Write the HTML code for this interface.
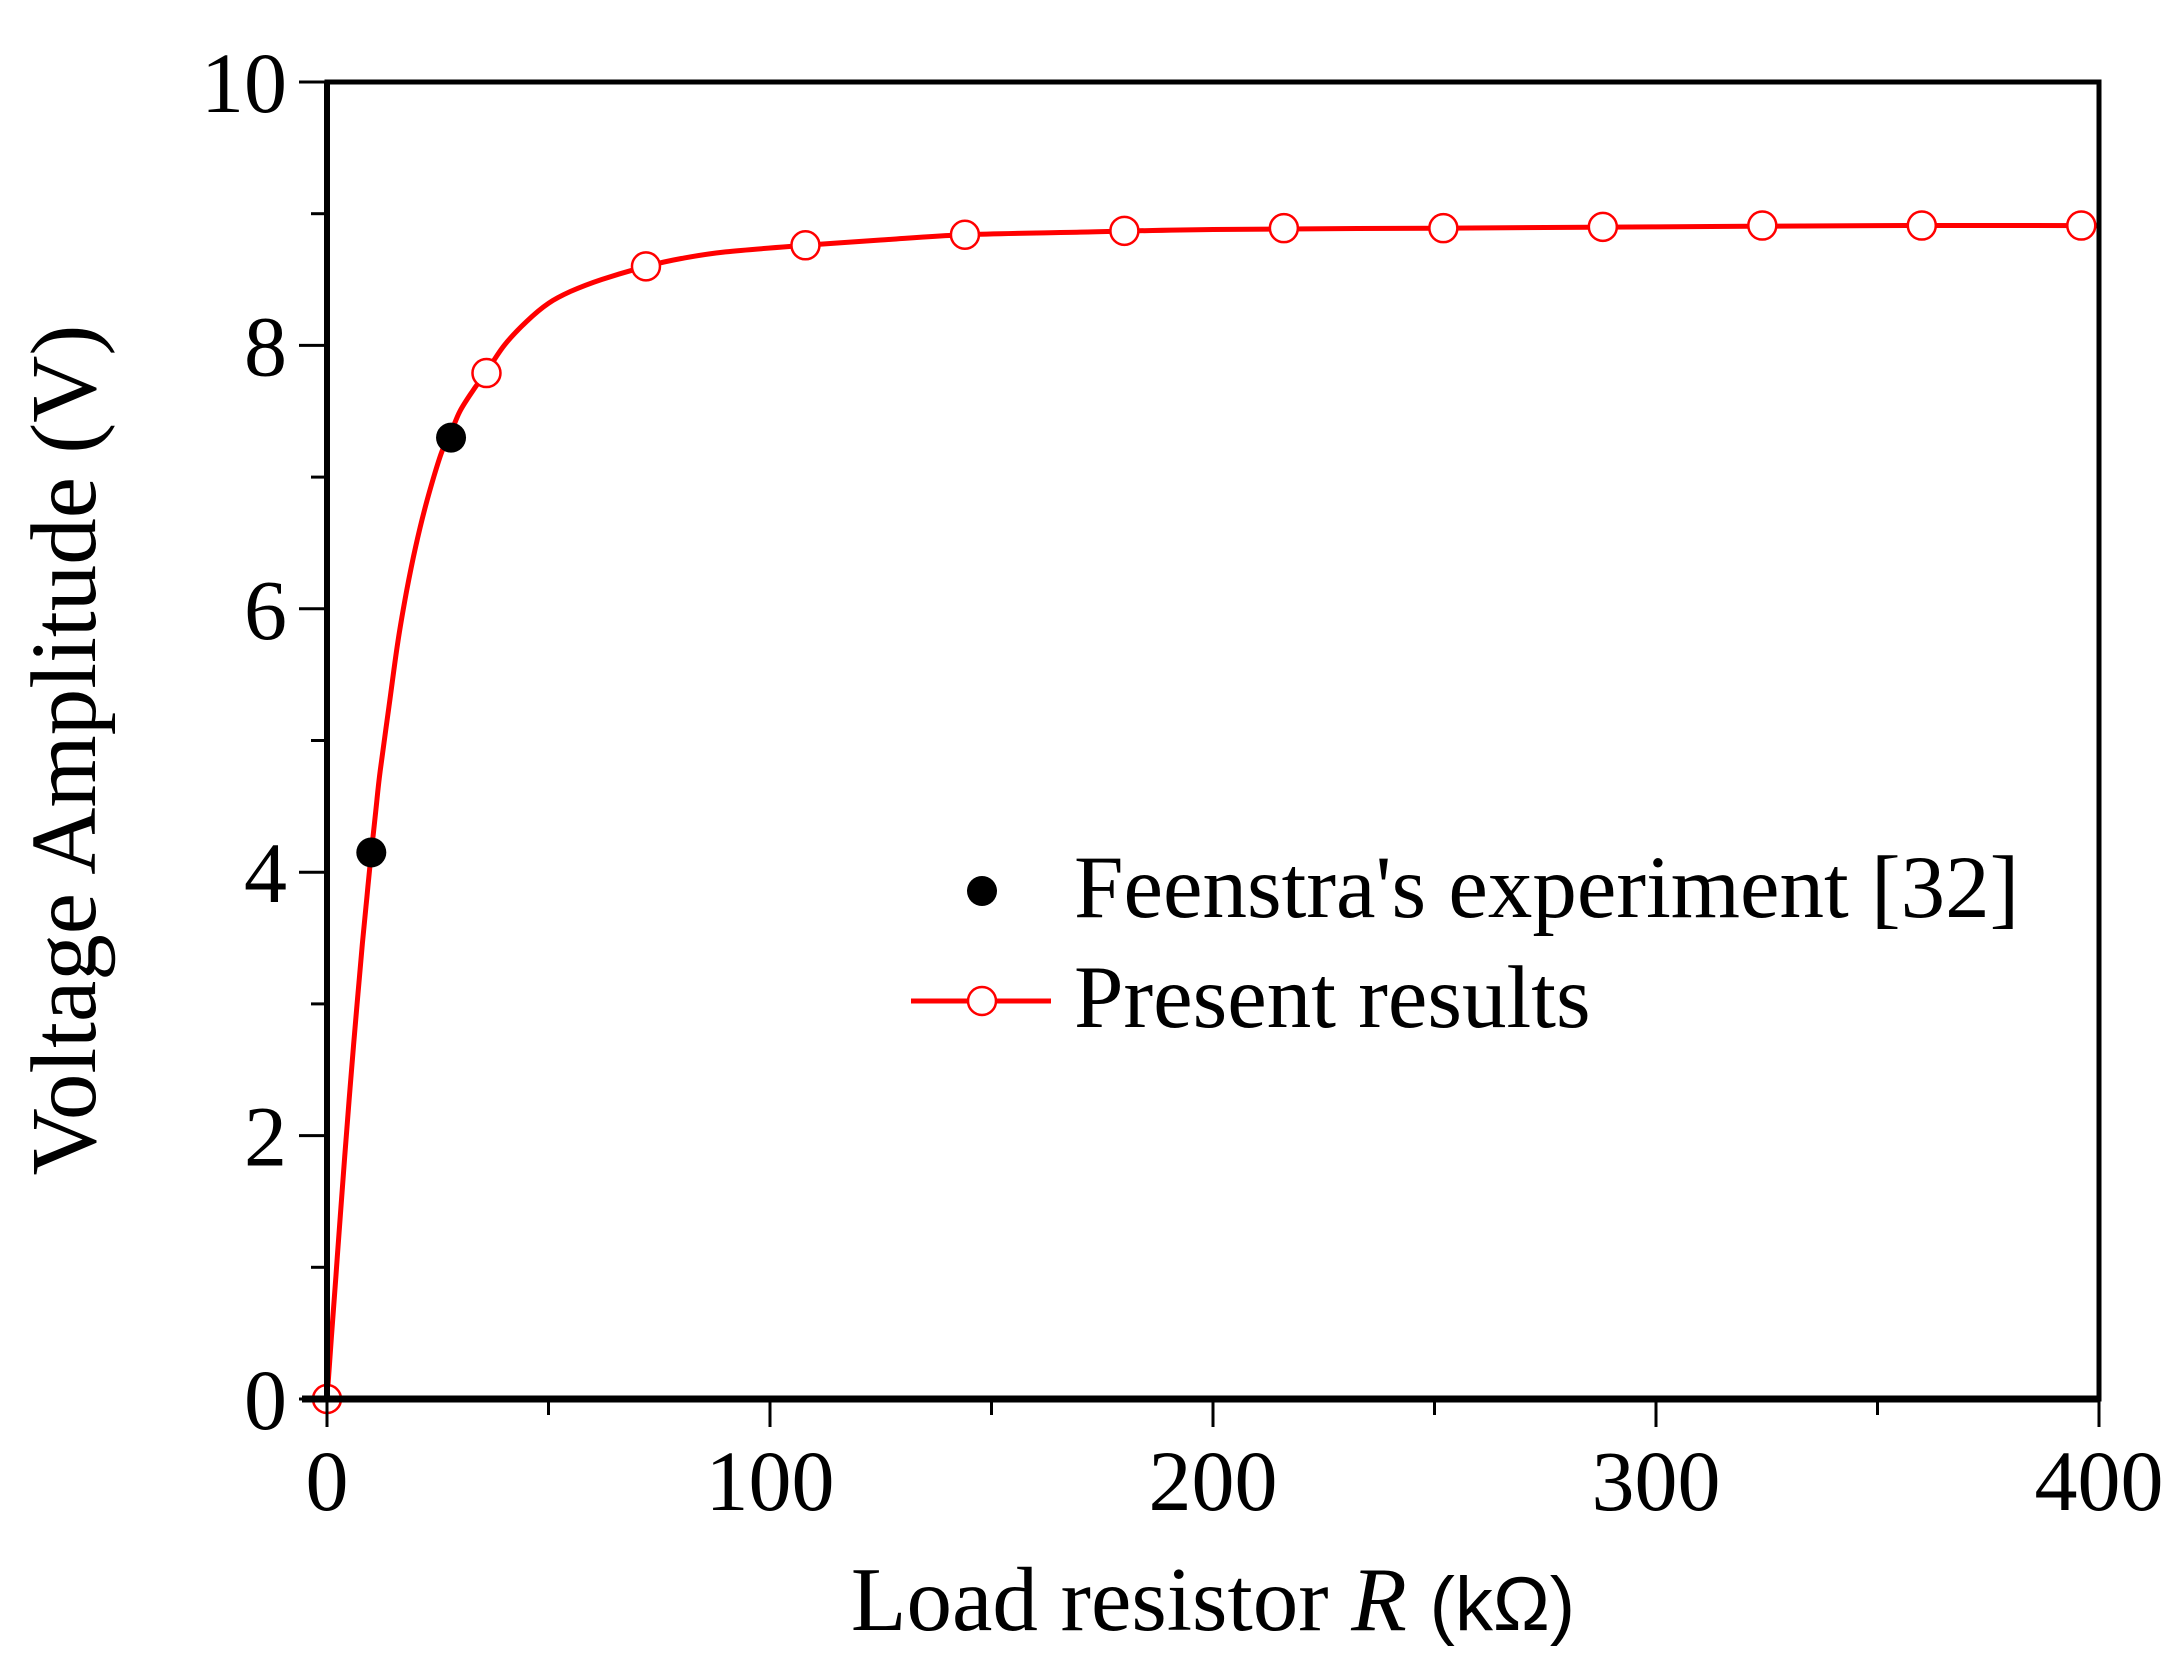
<!DOCTYPE html>
<html><head><meta charset="utf-8"><style>
html,body{margin:0;padding:0;background:#fff;}
svg{display:block;font-family:"Liberation Serif",serif;}
</style></head><body>
<svg id="chart" width="2182" height="1667" viewBox="0 0 2182 1667" xmlns="http://www.w3.org/2000/svg">
<g id="plot"></g>
</svg>
<script>
const xTicks = [0, 100, 200, 300, 400];
const xMinor = [50, 150, 250, 350];
const yTicks = [0, 2, 4, 6, 8, 10];
const yMinor = [1, 3, 5, 7, 9];
const curveR = [0, 1, 2, 3, 4, 5, 6, 7, 8, 9, 10, 11, 12, 14, 16, 18, 20, 22, 24, 26, 28, 30, 33, 36, 40, 45, 50, 55, 62, 72, 80, 90, 108, 125, 144, 170, 200, 250, 300, 350, 400];
const curveV = [0, 0.47, 0.93, 1.39, 1.84, 2.27, 2.69, 3.08, 3.46, 3.81, 4.15, 4.46, 4.77, 5.26, 5.75, 6.14, 6.47, 6.75, 6.99, 7.20, 7.34, 7.50, 7.66, 7.80, 8.00, 8.18, 8.32, 8.41, 8.50, 8.60, 8.66, 8.71, 8.76, 8.80, 8.84, 8.86, 8.88, 8.89, 8.90, 8.91, 8.91];
const presentR = [0, 36, 72, 108, 144, 180, 216, 252, 288, 324, 360, 396];
const presentV = [0, 7.79, 8.60, 8.76, 8.84, 8.87, 8.89, 8.89, 8.90, 8.91, 8.91, 8.91];
const expR = [10, 28];
const expV = [4.15, 7.30];

const X0 = 327, X1 = 2099, Y0 = 1399, Y1 = 82;
const sx = v => X0 + (v - 0) / 400 * (X1 - X0);
const sy = v => Y0 - (v - 0) / 10 * (Y0 - Y1);
const NS = "http://www.w3.org/2000/svg";
const g = document.getElementById('plot');
function mk(tag, attrs, parent) {
  const e = document.createElementNS(NS, tag);
  for (const k in attrs) e.setAttribute(k, attrs[k]);
  (parent || g).appendChild(e);
  return e;
}

const P = curveR.map((r, i) => [sx(r), sy(curveV[i])]);
let d = 'M' + P[0][0].toFixed(1) + ',' + P[0][1].toFixed(1);
for (let i = 0; i < P.length - 1; i++) {
  const p0 = P[Math.max(0, i - 1)], p1 = P[i], p2 = P[i + 1], p3 = P[Math.min(P.length - 1, i + 2)];
  const c1 = [p1[0] + (p2[0] - p0[0]) / 6, p1[1] + (p2[1] - p0[1]) / 6];
  const c2 = [p2[0] - (p3[0] - p1[0]) / 6, p2[1] - (p3[1] - p1[1]) / 6];
  d += ` C${c1[0].toFixed(1)},${c1[1].toFixed(1)} ${c2[0].toFixed(1)},${c2[1].toFixed(1)} ${p2[0].toFixed(1)},${p2[1].toFixed(1)}`;
}
const curve = mk('path', {d: d, fill: 'none', stroke: '#ff0000', 'stroke-width': 5, 'stroke-linejoin': 'round'});



presentR.forEach((r, i) => {
  const c = mk('circle', {cx: sx(r), cy: sy(presentV[i]), r: 14, fill: '#fff', stroke: '#ff0000', 'stroke-width': 2.5});
  
  
});
expR.forEach((r, i) => {
  const c = mk('circle', {cx: sx(r), cy: sy(expV[i]), r: 15, fill: '#000'});
  
  
});

const frame = mk('path', {d: `M${X0},${Y0} L${X0},${Y1} L${X1},${Y1} L${X1},${Y0} Z`, fill: 'none', stroke: '#000', 'stroke-width': 5});


const xaxisThick = mk('line', {x1: X0 - 25, x2: X1, y1: Y0, y2: Y0, stroke: '#000', 'stroke-width': 7});


const yaxisThick = mk('line', {x1: X0, x2: X0, y1: Y0, y2: Y1, stroke: '#000', 'stroke-width': 6});



xTicks.forEach(v => {
  const t = mk('line', {x1: sx(v), x2: sx(v), y1: Y0, y2: Y0 + 28, stroke: '#000', 'stroke-width': 3});
  
  
  const l = mk('text', {x: sx(v), y: 1510, 'font-size': 86, 'text-anchor': 'middle'});
  l.textContent = v;
  
  
});
xMinor.forEach(v => {
  const t = mk('line', {x1: sx(v), x2: sx(v), y1: Y0, y2: Y0 + 16, stroke: '#000', 'stroke-width': 3});
  
  
});
yTicks.forEach(v => {
  const t = mk('line', {x1: X0, x2: X0 - 28, y1: sy(v), y2: sy(v), stroke: '#000', 'stroke-width': 3});
  
  
  const l = mk('text', {x: 287, y: sy(v) + 30, 'font-size': 86, 'text-anchor': 'end'});
  l.textContent = v;
  
  
});
yMinor.forEach(v => {
  const t = mk('line', {x1: X0, x2: X0 - 16, y1: sy(v), y2: sy(v), stroke: '#000', 'stroke-width': 3});
  
  
});

const xt = mk('text', {x: 1213, y: 1630, 'font-size': 91, 'text-anchor': 'middle'});
xt.innerHTML = 'Load resistor <tspan font-style="italic">R</tspan> <tspan font-size="76" font-family="Liberation Sans, sans-serif">(kΩ)</tspan>';


const yt = mk('text', {x: 0, y: 0, 'font-size': 93, 'text-anchor': 'middle', transform: 'translate(95,750) rotate(-90)'});
yt.textContent = 'Voltage Amplitude (V)';



const lg = mk('g', {});


const ld = mk('circle', {cx: 982, cy: 891, r: 15, fill: '#000'}, lg);


const lt1 = mk('text', {x: 1074, y: 917, 'font-size': 89}, lg);
lt1.textContent = "Feenstra's experiment [32]";


const ll = mk('line', {x1: 911, x2: 1051, y1: 1001, y2: 1001, stroke: '#ff0000', 'stroke-width': 5}, lg);


const lc = mk('circle', {cx: 982, cy: 1001, r: 14, fill: '#fff', stroke: '#ff0000', 'stroke-width': 2.5}, lg);


const lt2 = mk('text', {x: 1074, y: 1027, 'font-size': 89}, lg);
lt2.textContent = 'Present results';


</script>
</body></html>
